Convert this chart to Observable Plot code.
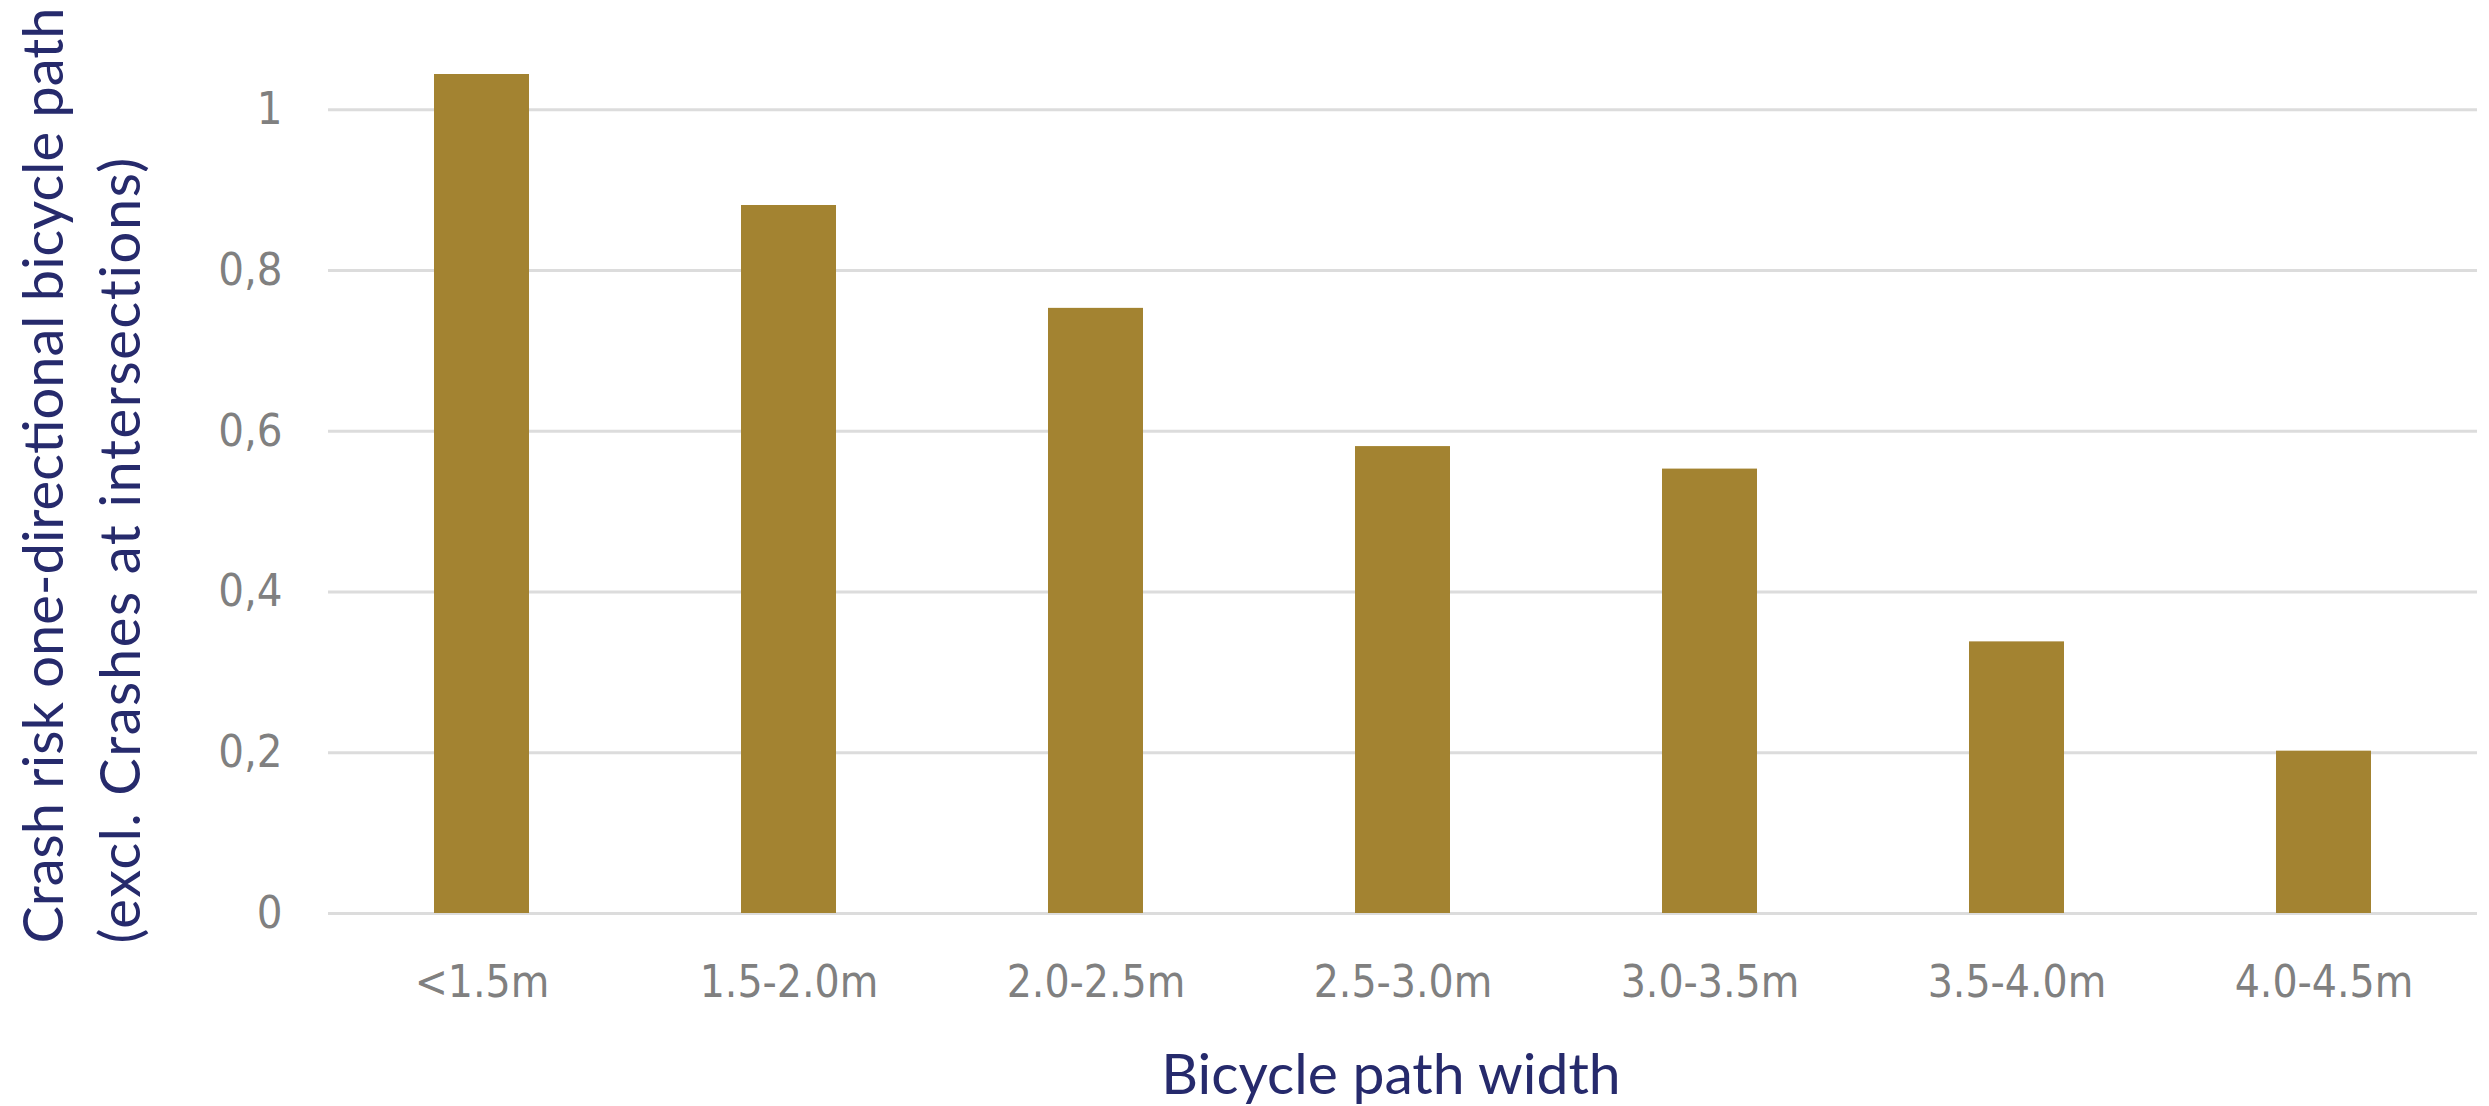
<!DOCTYPE html>
<html>
<head>
<meta charset="utf-8">
<script src="https://cdn.jsdelivr.net/npm/d3@7"></script>
<script src="https://cdn.jsdelivr.net/npm/@observablehq/plot@0.6"></script>
<style>
  html, body { margin: 0; padding: 0; background: #ffffff; }
  #chart svg { display: block; }
</style>
</head>
<body>
<div id="chart"></div>
<script>
// Data
const categories = ["<1.5m", "1.5-2.0m", "2.0-2.5m", "2.5-3.0m", "3.0-3.5m", "3.5-4.0m", "4.0-4.5m"];
const crashRisk = [1.044, 0.881, 0.753, 0.581, 0.553, 0.338, 0.202];
const yTicks = [0, 0.2, 0.4, 0.6, 0.8, 1];
const xTitle = "Bicycle path width";
const yTitleLine1 = "Crash risk one-directional bicycle path";
const yTitleLine2 = "(excl. Crashes at intersections)";

const data = categories.map((c, i) => ({category: c, value: crashRisk[i]}));

const tickFont = "'Liberation Sans Narrow', 'Arial Narrow', 'DejaVu Sans Condensed', sans-serif";
const titleFont = "Lato, 'Open Sans', sans-serif";
const tickColor = "#808080";
const titleColor = "#262a6c";
const barColor = "#a38331";
const gridColor = "#dcdcdc";

const chart = Plot.plot({
  width: 2489,
  height: 1106,
  marginLeft: 328,
  marginRight: 12,
  marginTop: 29,
  marginBottom: 193,
  x: {domain: categories, paddingInner: 0.69, paddingOuter: 0.345, align: 0.5},
  y: {domain: [0, 1.1]},
  marks: [
    Plot.ruleY(yTicks, {stroke: gridColor, strokeWidth: 3}),
    Plot.barY(data, {x: "category", y: "value", fill: barColor}),
    Plot.axisX({
      tickSize: 0, tickPadding: 52, label: null,
      fontSize: 44, fontFamily: tickFont, color: tickColor
    }),
    Plot.axisY({
      ticks: yTicks, tickSize: 0, tickPadding: 46, label: null,
      tickFormat: d => String(d).replace(".", ","),
      fontSize: 45, fontFamily: tickFont, color: tickColor
    }),
    Plot.text([xTitle], {
      text: d => d, frameAnchor: "bottom", lineAnchor: "bottom",
      dx: -12, dy: 180,
      fontSize: 57, fontFamily: titleFont, fill: titleColor
    }),
    Plot.text([yTitleLine1], {
      text: d => d, frameAnchor: "bottom-left", textAnchor: "start", lineAnchor: "top",
      rotate: -90, dx: -305, dy: 30,
      fontSize: 56, fontFamily: titleFont, fill: titleColor
    }),
    Plot.text([yTitleLine2], {
      text: d => d, frameAnchor: "bottom-left", textAnchor: "start", lineAnchor: "top",
      rotate: -90, dx: -228, dy: 30,
      fontSize: 56, fontFamily: titleFont, fill: titleColor
    })
  ]
});

// slightly wider tracking on the second title line, as in the reference
d3.select(chart).selectAll("text")
  .filter(function () { return this.textContent === yTitleLine2; })
  .style("letter-spacing", "1.6px");

document.getElementById("chart").appendChild(chart);
</script>
</body>
</html>
